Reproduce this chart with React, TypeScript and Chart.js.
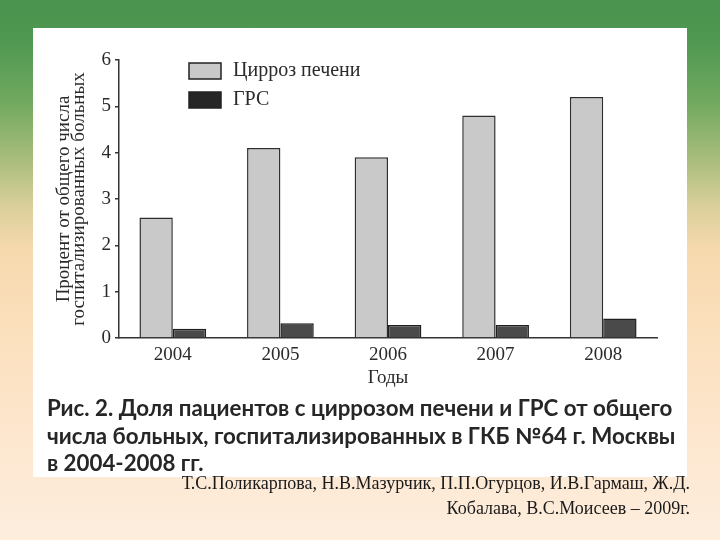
import React, { useEffect, useRef } from "react";
import { Chart, registerables } from "chart.js";

Chart.register(...registerables);

const years = ["2004", "2005", "2006", "2007", "2008"];
const cirrhosis = [2.6, 4.1, 3.9, 4.8, 5.2];
const hrs = [0.2, 0.32, 0.28, 0.28, 0.42];
const seriesLabels = ["Цирроз печени", "ГРС"];
const yMin = 0;
const yMax = 6;
const yStep = 1;
const yTitle = ["Процент от общего числа", "госпитализированных больных"];
const xTitle = "Годы";
const captionLines = [
  "Рис. 2. Доля пациентов с циррозом печени и ГРС от общего",
  "числа больных, госпитализированных в ГКБ №64 г. Москвы",
  "в 2004-2008 гг.",
];
const authorLines = [
  "Т.С.Поликарпова, Н.В.Мазурчик, П.П.Огурцов, И.В.Гармаш, Ж.Д.",
  "Кобалава, В.С.Моисеев – 2009г.",
];

const SERIF = '"Liberation Serif", "Times New Roman", serif';
const INK = "#2a2a2a";

const legendPlugin = {
  id: "insideLegend",
  afterDraw(chart: any) {
    const { ctx, chartArea } = chart;
    const x0 = chartArea.left + 70;
    const y0 = chartArea.top + 3;
    chart.data.datasets.forEach((ds: any, i: number) => {
      const y = y0 + i * 29;
      ctx.save();
      ctx.fillStyle = ds.legendFill || ds.backgroundColor;
      ctx.fillRect(x0, y, 32, 16);
      ctx.lineWidth = 1.5;
      ctx.strokeStyle = "#222";
      ctx.strokeRect(x0, y, 32, 16);
      ctx.fillStyle = INK;
      ctx.font = `20px ${SERIF}`;
      ctx.textBaseline = "middle";
      ctx.textAlign = "left";
      ctx.fillText(ds.label, x0 + 44, y + 8);
      ctx.restore();
    });
  },
};

function BarChart() {
  const ref = useRef<HTMLCanvasElement | null>(null);
  useEffect(() => {
    if (!ref.current) return;
    const chart = new Chart(ref.current, {
      type: "bar",
      data: {
        labels: years,
        datasets: [
          {
            label: seriesLabels[0],
            data: cirrhosis,
            backgroundColor: "#c9c9c9",
            borderColor: "#2e2e2e",
            borderWidth: 1.5,
            categoryPercentage: 0.62,
            barPercentage: 1,
          } as any,
          {
            label: seriesLabels[1],
            data: hrs,
            backgroundColor: "#4a4a4a",
            legendFill: "#262626",
            borderColor: "#1e1e1e",
            borderWidth: 1.5,
            categoryPercentage: 0.62,
            barPercentage: 1,
          } as any,
        ],
      },
      options: {
        responsive: false,
        animation: false,
        devicePixelRatio: 1,
        layout: { padding: { left: 0, top: 32, right: 30, bottom: 0 } },
        plugins: {
          legend: { display: false },
          tooltip: { enabled: false },
        },
        scales: {
          x: {
            grid: { display: false, drawTicks: false },
            border: { display: true, color: "#333", width: 1.5 },
            ticks: {
              color: INK,
              padding: 6,
              font: { family: SERIF, size: 19 },
            },
            title: {
              display: true,
              text: xTitle,
              color: INK,
              font: { family: SERIF, size: 19, lineHeight: 1.2 },
              padding: { top: 0, bottom: 9 },
            },
            afterFit(scale: any) {
              scale.height = 60;
            },
          },
          y: {
            min: yMin,
            max: yMax,
            ticks: {
              stepSize: yStep,
              color: INK,
              padding: 4,
              font: { family: SERIF, size: 19 },
            },
            grid: {
              drawOnChartArea: false,
              drawTicks: true,
              tickLength: 4,
              color: "#333",
              lineWidth: 1.5,
            },
            border: { display: true, color: "#333", width: 1.5 },
            title: {
              display: true,
              text: yTitle,
              color: INK,
              font: { family: SERIF, size: 19, lineHeight: 0.82 },
              padding: { top: 23, bottom: 0 },
            },
            afterFit(scale: any) {
              scale.width = 86;
            },
          },
        },
      },
      plugins: [legendPlugin],
    });
    return () => chart.destroy();
  }, []);
  return <canvas ref={ref} width={654} height={370} style={{ display: "block" }} />;
}

export default function App() {
  return (
    <div
      style={{
        position: "fixed",
        left: 0,
        top: 0,
        width: 720,
        height: 540,
        overflow: "hidden",
        background:
          "linear-gradient(to bottom, #4a934e 0px, #4f9852 40px, #6fa85e 100px, #a9bd7c 160px, #d9cf9a 205px, #f7d9ae 250px, #fbdfbb 320px, #fde8d2 460px, #fdeede 540px)",
      }}
    >
      <div
        style={{
          position: "absolute",
          left: 33,
          top: 28,
          width: 654,
          height: 449,
          background: "#ffffff",
        }}
      />
      <div style={{ position: "absolute", left: 33, top: 28, width: 654, height: 370 }}>
        <BarChart />
      </div>
      {captionLines.map((t, i) => (
        <div
          key={i}
          style={{
            position: "absolute",
            left: 47,
            top: 394 + i * 27.5,
            height: 28,
            lineHeight: "28px",
            whiteSpace: "nowrap",
            fontFamily: 'Lato, "Open Sans", sans-serif',
            fontWeight: 700,
            fontSize: 22.3,
            color: "#262626",
          }}
        >
          {t}
        </div>
      ))}
      {authorLines.map((t, i) => (
        <div
          key={i}
          style={{
            position: "absolute",
            right: 30,
            top: 471 + i * 24.5,
            height: 24,
            lineHeight: "24px",
            whiteSpace: "nowrap",
            textAlign: "right",
            fontFamily: SERIF,
            fontSize: 18,
            color: "#1a1a1a",
          }}
        >
          {t}
        </div>
      ))}
    </div>
  );
}
